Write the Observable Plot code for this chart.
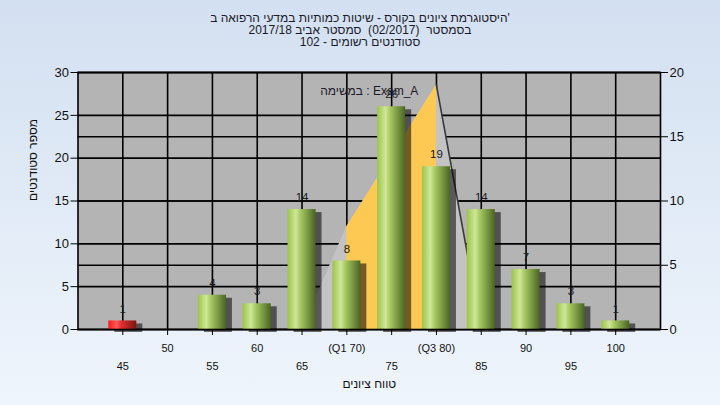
<!DOCTYPE html>
<html><head><meta charset="utf-8">
<script src="https://cdn.jsdelivr.net/npm/d3@7"></script>
<script src="https://cdn.jsdelivr.net/npm/@observablehq/plot@0.6"></script>
<style>
body{margin:0;}
#wrap{position:relative;width:720px;height:405px;background:linear-gradient(#d3e0f1,#eff5fc);font-family:"Liberation Sans",Arial,sans-serif;overflow:hidden;}
#wrap svg{position:absolute;left:0;top:0;}
.t{position:absolute;left:0;width:720px;text-align:center;font-size:12px;color:#1a1a2a;line-height:12px;white-space:pre;}
</style></head><body><div id="wrap"></div>
<script>
const titleLines = [
  "היסטוגרמת ציונים בקורס - שיטות כמותיות במדעי הרפואה ב'",
  "בסמסטר  (02/2017)  סמסטר אביב 2017/18",
  "סטודנטים רשומים - 102"
];
const yTitle = "מספר סטודנטים";
const xTitle = "טווח ציונים";
const legendLabel = "במשימה : Exam_A";
const grades = [45,50,55,60,65,70,75,80,85,90,95,100];
const counts = [1,0,4,3,14,8,26,19,14,7,3,1];
const tickLabels = ["45","50","55","60","65","(Q1 70)","75","(Q3 80)","85","90","95","100"];
const leftTicks = [0,5,10,15,20,25,30];
const rightTicks = [0,5,10,15,20];
const areaGrades = [65,70,80,85];
const areaValues = [0,8,19,0];
const q1 = 70, q3 = 80;
const passGrade = 55;

const wrap = document.getElementById("wrap");
const ratio = leftTicks[leftTicks.length-1] / rightTicks[rightTicks.length-1];
const bars = grades.map((g,i)=>({g, n:counts[i]})).filter(d=>d.n>0);
const area = areaGrades.map((g,i)=>({g, v:areaValues[i]*ratio}));
const fmt = g => tickLabels[grades.indexOf(g)];
const row1 = grades.filter((g,i)=>i%2===1);
const row2 = grades.filter((g,i)=>i%2===0);
const half = (grades[1]-grades[0])/2;
const inset = 8.4;

const plot = Plot.plot({
  width:720, height:405,
  marginTop:72, marginBottom:76, marginLeft:77.5, marginRight:60,
  style:{background:"transparent", fontFamily:"'Liberation Sans', Arial, sans-serif", color:"#111"},
  x:{domain:[40,105]},
  y:{domain:[0,30]},
  marks:[
    Plot.frame({fill:"#b4b4b4"}),
    Plot.gridX(grades, {stroke:"#000", strokeOpacity:1, strokeWidth:1.6}),
    Plot.gridY(leftTicks, {stroke:"#000", strokeOpacity:1, strokeWidth:1.6}),
    Plot.gridY(rightTicks.map(v=>v*ratio), {stroke:"#000", strokeOpacity:1, strokeWidth:1.6}),
    Plot.areaY(area, {x:"g", y:"v", fill:"#c3c3c3"}),
    Plot.areaY(area.filter(d=>d.g>=q1 && d.g<=q3), {x:"g", y:"v", fill:"#fec952"}),
    Plot.line(area.filter(d=>d.g>=q3), {x:"g", y:"v", stroke:"#3a3a3a", strokeWidth:1.6}),
    Plot.rectY(bars, {x1:d=>d.g-half, x2:d=>d.g+half, y:"n", insetLeft:inset, insetRight:inset, fill:"#000", fillOpacity:0.55, dx:6, dy:3, ariaLabel:"bar-shadow"}),
    Plot.rectY(bars.filter(d=>d.g>=passGrade), {x1:d=>d.g-half, x2:d=>d.g+half, y:"n", insetLeft:inset, insetRight:inset, fill:"url(#gGreen)"}),
    Plot.rectY(bars.filter(d=>d.g<passGrade), {x1:d=>d.g-half, x2:d=>d.g+half, y:"n", insetLeft:inset, insetRight:inset, fill:"url(#gRed)"}),
    Plot.text(bars, {x:"g", y:"n", text:d=>String(d.n), dy:-12, fontSize:11.5, fill:"#1a1a1a"}),
    Plot.frame({stroke:"#000", strokeWidth:1.6}),
    Plot.axisY(leftTicks, {anchor:"left", tickSize:7, tickPadding:2, fontSize:13, label:null, stroke:"#000"}),
    Plot.axisY(rightTicks.map(v=>v*ratio), {anchor:"right", tickSize:7, tickPadding:2, fontSize:13, label:null, tickFormat:d=>String(d/ratio), stroke:"#000"}),
    Plot.axisX(row1, {tickSize:6, tickPadding:8.5, fontSize:11, label:null, tickFormat:fmt, stroke:"#000"}),
    Plot.axisX(row2, {tickSize:6, tickPadding:26.5, fontSize:11, label:null, tickFormat:fmt, stroke:"#000"}),
    Plot.text([yTitle], {frameAnchor:"left", dx:-44.5, rotate:-90, fontSize:12, fill:"#111"}),
    Plot.text([xTitle], {frameAnchor:"bottom", dy:58, fontSize:12, fill:"#111"}),
    Plot.text([legendLabel], {frameAnchor:"top", dy:14, fontSize:12, fill:"#1a1a2a"})
  ]
});

const svg = d3.select(plot);
const defs = svg.insert("defs", ":first-child");
const gg = defs.append("linearGradient").attr("id","gGreen").attr("x1",0).attr("x2",1).attr("y1",0).attr("y2",0);
[[0,"#9cc448"],[0.3,"#cfe79a"],[0.45,"#a9cb63"],[1,"#4a6522"]].forEach(([o,c])=>gg.append("stop").attr("offset",o).attr("stop-color",c));
const gr = defs.append("linearGradient").attr("id","gRed").attr("x1",0).attr("x2",1).attr("y1",0).attr("y2",0);
[[0,"#ff1a1a"],[0.3,"#ff5a5a"],[0.45,"#e53030"],[1,"#7a1414"]].forEach(([o,c])=>gr.append("stop").attr("offset",o).attr("stop-color",c));
defs.append("filter").attr("id","blur").attr("x","-50%").attr("y","-50%").attr("width","200%").attr("height","200%")
  .append("feGaussianBlur").attr("stdDeviation",2.5);
svg.selectAll('g[aria-label="bar-shadow"]').attr("filter","url(#blur)");

wrap.appendChild(plot);
const tops = [12, 24, 36];
titleLines.forEach((line,i)=>{
  const d = document.createElement("div");
  d.className = "t"; d.dir = "ltr"; d.style.top = tops[i]+"px"; d.textContent = line;
  wrap.appendChild(d);
});
</script></body></html>
